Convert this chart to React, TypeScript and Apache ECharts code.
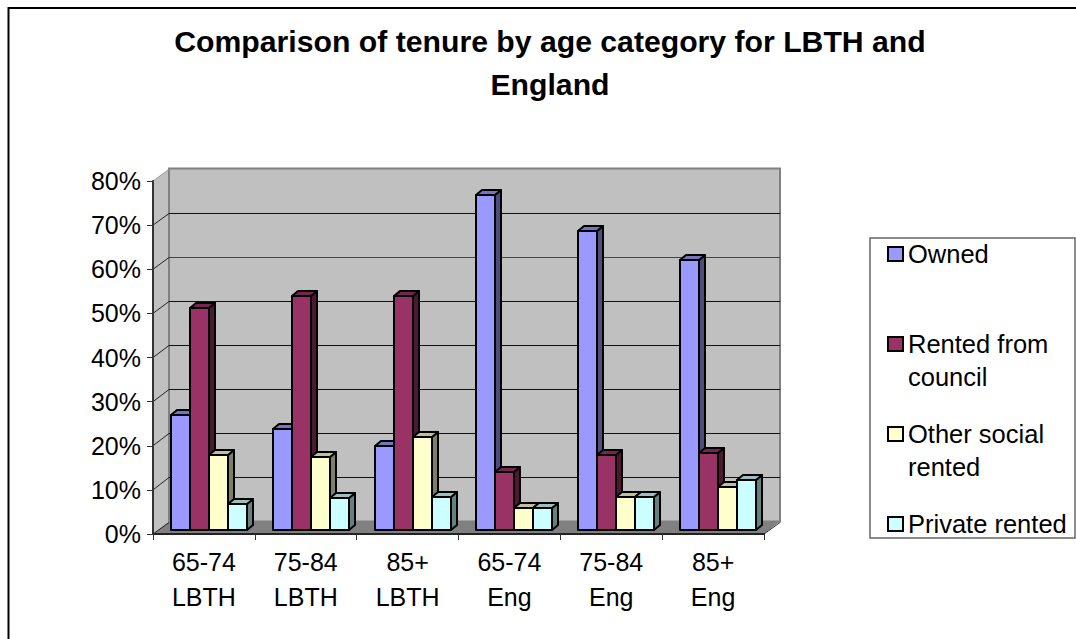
import React, { useEffect, useRef } from "react";
import * as echarts from "echarts";

const categories = ["65-74\nLBTH", "75-84\nLBTH", "85+\nLBTH", "65-74\nEng", "75-84\nEng", "85+\nEng"];
const owned = [26, 23, 19, 76, 67.7, 61.2];
const council = [50.3, 53, 53, 13.2, 17, 17.5];
const otherSocial = [17, 16.5, 21, 5, 7.5, 9.7];
const privateRented = [5.8, 7.2, 7.4, 5, 7.5, 11.3];
const yTicks = [0, 10, 20, 30, 40, 50, 60, 70, 80];
const titleText = "Comparison of tenure by age category for LBTH and\nEngland";
const FONT = "Liberation Sans";

const seriesDefs = [
  { name: "Owned", label: "Owned", values: owned, front: "#9999FF", top: "#7373BF", side: "#4C4C7F", legendTop: 254 },
  { name: "Rented from council", label: "\nRented from\ncouncil", values: council, front: "#993366", top: "#732650", side: "#4C1933", legendTop: 344 },
  { name: "Other social rented", label: "\nOther social\nrented", values: otherSocial, front: "#FFFFCC", top: "#BFBF99", side: "#7F7F66", legendTop: 434 },
  { name: "Private rented", label: "Private rented", values: privateRented, front: "#CCFFFF", top: "#99BFBF", side: "#667F7F", legendTop: 524 },
];

const WALL_DX = 16;
const WALL_DY = -12.5;
const BAR_W = 19;
const BAR_OFF_X = 5;
const BAR_OFF_Y = -4;
const DEPTH_X = 6;
const DEPTH_Y = -5;
const LINE_H = 33;

function renderBar(si: number, def: any) {
  return (_params: any, api: any) => {
    const cat = api.value(0);
    const val = api.value(1);
    const base = api.coord([cat, 0]);
    const top = api.coord([cat, val]);
    const x0 = Math.round(base[0] + BAR_OFF_X + (si - 2) * BAR_W);
    const x1 = x0 + BAR_W;
    const yb = Math.round(base[1] + BAR_OFF_Y);
    const yt = Math.round(top[1] + BAR_OFF_Y);
    const stroke = { stroke: "#000", lineWidth: 2, lineJoin: "round" };
    return {
      type: "group",
      children: [
        {
          type: "polygon",
          shape: { points: [[x1, yt], [x1 + DEPTH_X, yt + DEPTH_Y], [x1 + DEPTH_X, yb + DEPTH_Y], [x1, yb]] },
          style: { fill: def.side, ...stroke },
        },
        {
          type: "polygon",
          shape: { points: [[x0, yt], [x0 + DEPTH_X, yt + DEPTH_Y], [x1 + DEPTH_X, yt + DEPTH_Y], [x1, yt]] },
          style: { fill: def.top, ...stroke },
        },
        {
          type: "rect",
          shape: { x: x0, y: yt, width: BAR_W, height: yb - yt },
          style: { fill: def.front, ...stroke },
        },
      ],
    };
  };
}

function renderWalls(_params: any, api: any) {
  const n = categories.length;
  const lo = api.coord([0, 0]);
  const hi = api.coord([n - 1, 80]);
  const band = api.size([1, 0])[0];
  const xl = lo[0] - band / 2;
  const xr = hi[0] + band / 2;
  const yb = lo[1];
  const yt = hi[1];
  return {
    type: "group",
    children: [
      {
        type: "polygon",
        shape: { points: [[xl, yb], [xl + WALL_DX, yb + WALL_DY], [xl + WALL_DX, yt + WALL_DY], [xl, yt]] },
        style: { fill: "#C0C0C0", stroke: "none" },
      },
      {
        type: "polygon",
        shape: { points: [[xl, yb], [xl + WALL_DX, yb + WALL_DY], [xr + WALL_DX, yb + WALL_DY], [xr, yb]] },
        style: { fill: "#808080", stroke: "none" },
      },
      {
        type: "rect",
        shape: { x: xl + WALL_DX, y: yt + WALL_DY, width: xr - xl, height: yb - yt },
        style: { fill: "#C0C0C0", stroke: "#808080", lineWidth: 2 },
      },
    ],
  };
}

function renderGrid(_params: any, api: any) {
  const n = categories.length;
  const v = api.value(1);
  const lo = api.coord([0, v]);
  const hi = api.coord([n - 1, v]);
  const band = api.size([1, 0])[0];
  const xl = lo[0] - band / 2;
  const xr = hi[0] + band / 2;
  const y = lo[1];
  const yBack = Math.round(y + WALL_DY) + 0.5;
  const children: any[] = [
    {
      type: "line",
      shape: { x1: xl, y1: y, x2: xl + WALL_DX, y2: yBack },
      style: { stroke: v === 80 ? "#A0A0A0" : "#222", lineWidth: 1 },
    },
  ];
  if (v > 0 && v < 80) {
    children.push({
      type: "line",
      shape: { x1: xl + WALL_DX, y1: yBack, x2: xr + WALL_DX, y2: yBack },
      style: { stroke: v === 60 ? "#444" : "#111", lineWidth: 1 },
    });
  }
  if (v === 0) {
    children.push({
      type: "line",
      shape: { x1: xr, y1: y, x2: xr + WALL_DX, y2: yBack },
      style: { stroke: "#333", lineWidth: 1 },
    });
  }
  return { type: "group", children };
}

export default function App() {
  const ref = useRef<HTMLDivElement>(null);
  useEffect(() => {
    const chart = echarts.init(ref.current!, undefined, { renderer: "svg" });
    const textBase = { fontFamily: FONT, fontSize: 25, color: "#000" };
    chart.setOption({
      animation: false,
      backgroundColor: "#fff",
      title: {
        text: titleText,
        left: 550,
        top: 20,
        padding: 0,
        textAlign: "center",
        textStyle: { fontFamily: FONT, fontSize: 30.2, fontWeight: "bold", color: "#000", lineHeight: 43 },
      },
      grid: { left: 153, top: 181, width: 611, height: 353 },
      xAxis: {
        type: "category",
        data: categories,
        z: 5,
        axisLine: { lineStyle: { color: "#222", width: 2 } },
        axisTick: { show: true, length: 6, lineStyle: { color: "#333", width: 1 } },
        axisLabel: { ...textBase, margin: 10, lineHeight: 35, interval: 0 },
      },
      yAxis: {
        type: "value",
        min: 0,
        max: 80,
        interval: 10,
        z: 5,
        splitLine: { show: false },
        axisLine: { show: true, lineStyle: { color: "#333", width: 2 } },
        axisTick: { show: true, length: 6, lineStyle: { color: "#333", width: 1 } },
        axisLabel: { ...textBase, margin: 12, formatter: "{value}%" },
      },
      legend: seriesDefs.map((d) => {
        const lines = d.label.split("\n").length;
        return {
          data: [d.name],
          left: 887,
          top: d.legendTop - (lines * LINE_H) / 2,
          padding: 0,
          itemWidth: 15,
          itemHeight: 14,
          icon: "rect",
          selectedMode: false,
          itemStyle: { borderColor: "#000", borderWidth: 2 },
          formatter: () => d.label,
          textStyle: { ...textBase, fontSize: 25.5, lineHeight: LINE_H },
        };
      }),
      graphic: [
        {
          type: "polyline",
          silent: true,
          shape: { points: [[8.5, 639], [8.5, 8], [1076, 8]] },
          style: { stroke: "#000", lineWidth: 2, fill: "none" },
        },
        {
          type: "rect",
          silent: true,
          shape: { x: 870, y: 238, width: 205, height: 300 },
          style: { fill: "#fff", stroke: "#666", lineWidth: 1.5 },
        },
      ],
      series: [
        {
          type: "custom",
          silent: true,
          z: 1,
          renderItem: renderWalls,
          data: [[0, 0]],
          encode: { x: 0, y: 1 },
        },
        {
          type: "custom",
          silent: true,
          z: 1,
          renderItem: renderGrid,
          data: yTicks.map((v) => [0, v]),
          encode: { x: 0, y: 1 },
        },
        ...seriesDefs.map((d, si) => ({
          type: "custom",
          name: d.name,
          z: 2,
          renderItem: renderBar(si, d),
          itemStyle: { color: d.front },
          data: d.values.map((v, i) => [i, v]),
          encode: { x: 0, y: 1 },
        })),
      ],
    });
    return () => chart.dispose();
  }, []);
  return <div ref={ref} style={{ position: "absolute", left: 0, top: 0, width: 1076, height: 639 }} />;
}
